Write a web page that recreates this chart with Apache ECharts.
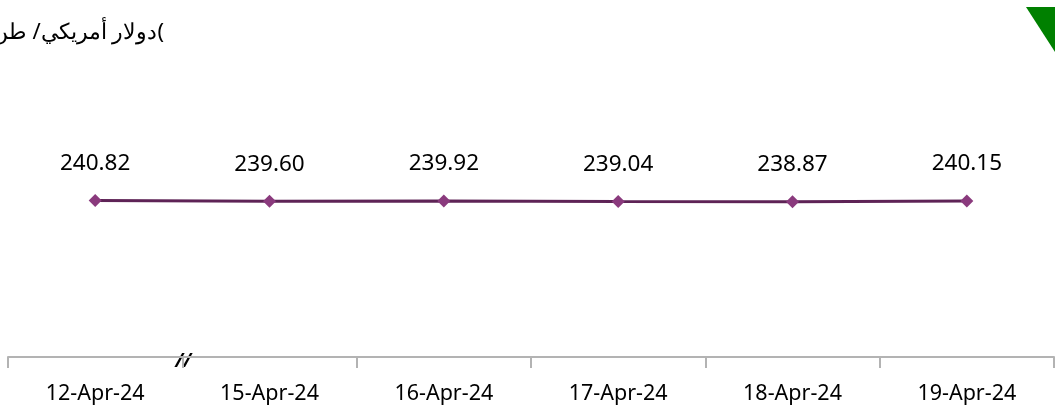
<!DOCTYPE html>
<html><head><meta charset="utf-8">
<script src="https://cdn.jsdelivr.net/npm/echarts@6/dist/echarts.min.js"></script>
<style>html,body{margin:0;padding:0;background:#fff}#c{width:1055px;height:412px}</style>
</head><body><div id="c"></div>
<script>
const categories = ['12-Apr-24','15-Apr-24','16-Apr-24','17-Apr-24','18-Apr-24','19-Apr-24'];
const prices = [240.82, 239.60, 239.92, 239.04, 238.87, 240.15];
const unitLabel = 'دولار أمريكي/ طن(';

const chart = echarts.init(document.getElementById('c'), null, {renderer:'canvas'});
const font = '"Noto Sans", sans-serif';
chart.setOption({
  animation:false,
  backgroundColor:'#fff',
  grid:{left:8, right:1, top:97, bottom:55},
  xAxis:{type:'category', data:categories, boundaryGap:true,
    axisLine:{lineStyle:{color:'#b3b3b3', width:2}},
    axisTick:{show:true, length:11, lineStyle:{color:'#b3b3b3', width:2}},
    axisLabel:{color:'#000', fontFamily:font, fontSize:21.5, margin:26}},
  yAxis:{type:'value', min:0, max:400, show:false, splitLine:{show:false}},
  series:[{type:'line', data:prices, symbol:'diamond', symbolSize:13,
    lineStyle:{color:'#5e2356', width:3},
    itemStyle:{color:'#8a3a7d'},
    label:{show:true, position:'top', distance:19, color:'#000', fontFamily:font, fontSize:22.5,
      formatter:p=>p.value.toFixed(2)}}],
  graphic:[
    {type:'text', x:164, y:33, style:{text:unitLabel, fill:'#000', fontSize:22, fontFamily:font, align:'right', verticalAlign:'middle'}},
    {type:'polygon', shape:{points:[[1026,7],[1055,7],[1055,52]]}, style:{fill:'#008000'}}
  ]
});
const p0 = chart.convertToPixel({xAxisIndex:0}, 0);
const p1 = chart.convertToPixel({xAxisIndex:0}, 1);
const yAx = chart.convertToPixel({yAxisIndex:0}, 0);
chart.setOption({graphic:[{}, {}, {type:'text', x:(p0+p1)/2 + 1, y:yAx + 5, style:{text:'//', fill:'#000', fontSize:19, fontStyle:'italic', fontWeight:'bold', fontFamily:font, align:'center', verticalAlign:'middle'}}]});
</script></body></html>
